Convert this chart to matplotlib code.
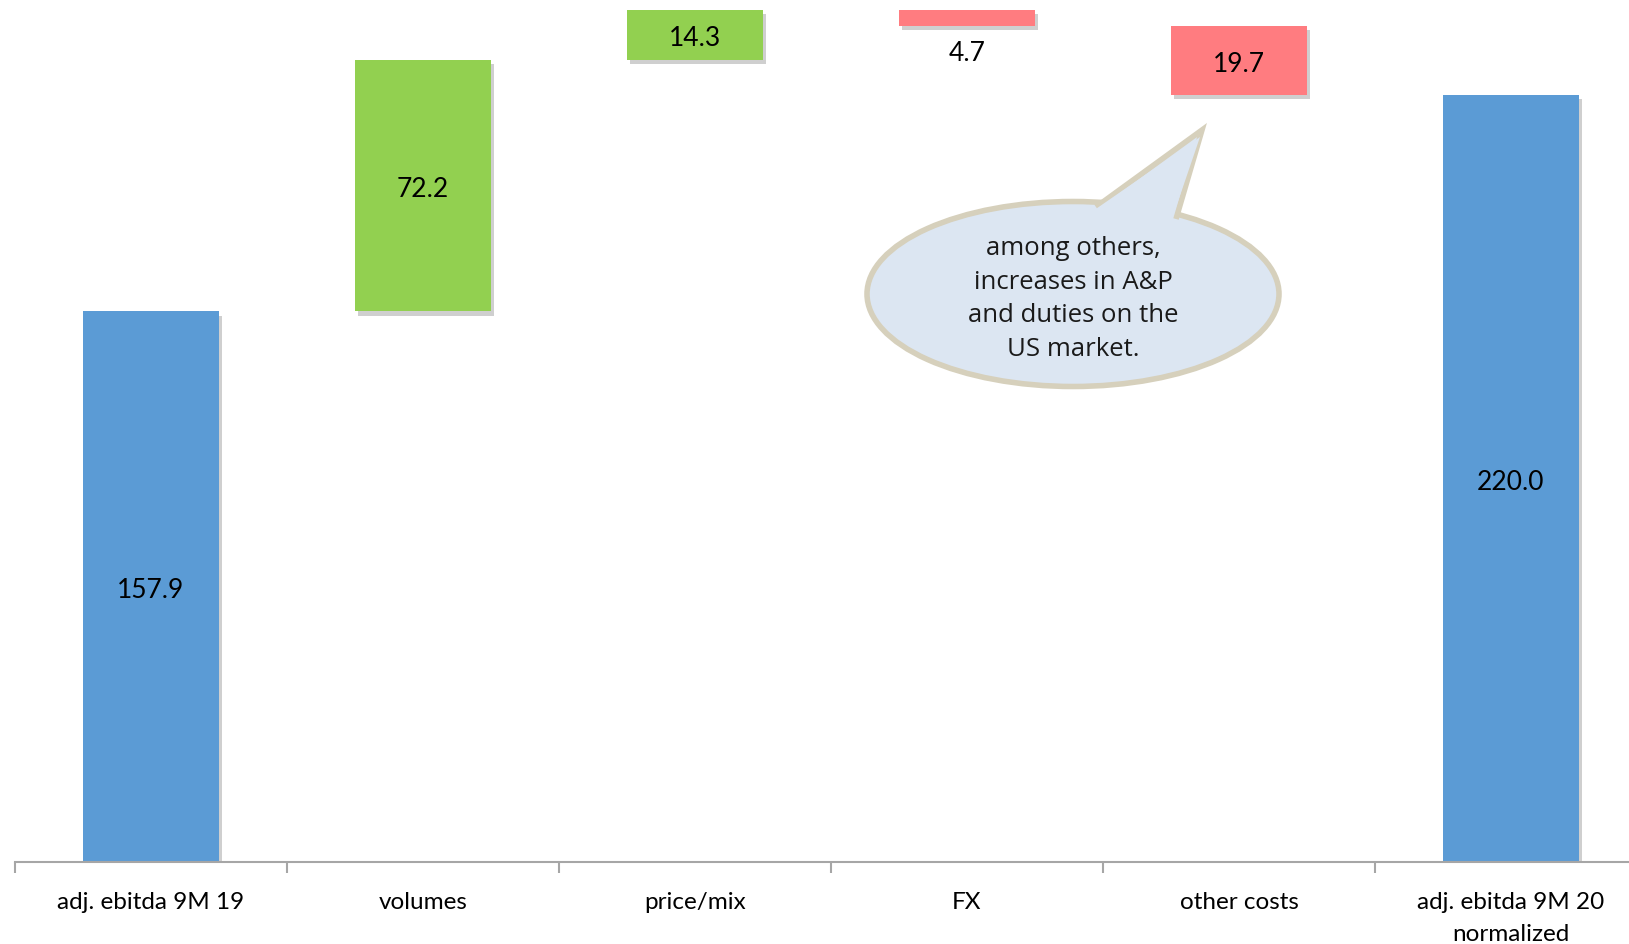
import matplotlib
matplotlib.use("Agg")
import matplotlib.pyplot as plt
import matplotlib.patheffects as pe
from matplotlib.patches import Ellipse, Polygon
import numpy as np

categories = ["adj. ebitda 9M 19", "volumes", "price/mix", "FX", "other costs",
              "adj. ebitda 9M 20\nnormalized"]
changes = [157.9, 72.2, 14.3, -4.7, -19.7, 220.0]
kinds = ["total", "delta", "delta", "delta", "delta", "total"]
labels = ["157.9", "72.2", "14.3", "4.7", "19.7", "220.0"]
note = ["among others,", "increases in A&P", "and duties on the", "US market."]

BLUE = "#5b9bd5"
GREEN = "#92d050"
RED = "#ff7c80"

plt.rcParams['font.family'] = ['Lato', 'DejaVu Sans']

fig = plt.figure(figsize=(16.29, 9.45), dpi=100)
W, H = 1629, 945
ax = fig.add_axes([15 / W, 82 / H, 1632 / W, 1 - 82 / H])
ax.set_xlim(-0.5, 5.5)
ax.set_ylim(0, 247.5)

shadow = [pe.SimplePatchShadow(offset=(2, -3), shadow_rgbFace="#777777", alpha=0.35),
          pe.Normal()]

running = 0.0
for i, (v, k) in enumerate(zip(changes, kinds)):
    if k == "total":
        bottom, height, col = 0, v, BLUE
        running = v
    else:
        if v >= 0:
            bottom, height, col = running, v, GREEN
        else:
            bottom, height, col = running + v, -v, RED
        running += v
    b = ax.bar(i, height, bottom=bottom, width=0.5, color=col, zorder=2)
    for p in b:
        p.set_path_effects(shadow)
    if labels[i] == "4.7":
        ax.text(i, bottom - 4, labels[i], ha="center", va="top", fontsize=19, zorder=4)
    else:
        ax.text(i, bottom + height / 2 - 0.8, labels[i], ha="center", va="center",
                fontsize=19, zorder=4)

# axis
for s in ["top", "right", "left"]:
    ax.spines[s].set_visible(False)
ax.spines["bottom"].set_color("#a6a6a6")
ax.spines["bottom"].set_linewidth(1.5)
ax.set_yticks([])
ax.set_xticks(np.arange(len(categories)))
ax.set_xticklabels(categories, fontsize=17.5, linespacing=1.65)
ax.tick_params(axis="x", which="major", length=0, pad=21)
ax.set_xticks(np.arange(-0.5, len(categories), 1.0), minor=True)
ax.tick_params(axis="x", which="minor", length=8, width=1.5, color="#a6a6a6")

# callout bubble (figure pixel coords, y from top)
def fp(x, y):
    return (x / W, 1 - y / H)

tf = fig.transFigure
ell = Ellipse(fp(1073, 295), 412 / W, 185 / H, transform=tf,
              facecolor="#dce6f2", edgecolor="#d6d0bc", linewidth=4, zorder=5)
fig.patches.append(ell)
tail = Polygon([fp(1096, 208), fp(1202, 131), fp(1176, 220)], closed=False,
               transform=tf, facecolor="#dce6f2", edgecolor="#d6d0bc",
               linewidth=4, joinstyle="miter", zorder=6)
fig.patches.append(tail)
cover = Polygon([fp(1090, 214), fp(1200, 138), fp(1170, 226)], closed=True,
                transform=tf, facecolor="#dce6f2", edgecolor="none", zorder=7)
fig.patches.append(cover)

for j, line in enumerate(note):
    fig.text(1073 / W, 1 - (249 + 33.5 * j) / H, line, ha="center", va="center",
             fontsize=18.5, family=["Open Sans", "DejaVu Sans"], color="#1a1a1a",
             zorder=8)

fig.savefig("out.png", dpi=100)
